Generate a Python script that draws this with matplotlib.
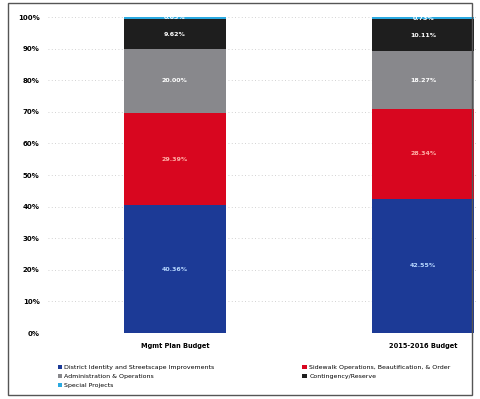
import numpy as np
import matplotlib
matplotlib.use("Agg")
import matplotlib.pyplot as plt
from matplotlib.patches import Rectangle

# -----------------------------
# Data
# -----------------------------
budgets = ["Mgmt Plan Budget", "2015-2016 Budget"]
series = ["District Identity and Streetscape Improvements",
          "Sidewalk Operations, Beautification, & Order",
          "Administration & Operations",
          "Contingency/Reserve",
          "Special Projects"]
district = [40.36, 42.55]
sidewalk = [29.39, 28.34]
admin = [20.00, 18.27]
contingency = [9.62, 10.11]
special = [0.63, 0.73]
colors = ["#1c3a96", "#d8061f", "#88888c", "#1e1e1e", "#2aa9e0"]

values = [district, sidewalk, admin, contingency, special]
label_colors = ["#b8d8ff", "#ffb0a8", "white", "white", "white"]

fig = plt.figure(figsize=(4.81, 3.99), dpi=100)
# border around the whole chart area
fig.patches.append(Rectangle((8 / 481, 4 / 399), 464 / 481, 392 / 399,
                             transform=fig.transFigure, fill=False,
                             edgecolor="#555555", linewidth=1.0))

ax = fig.add_axes([48 / 481, 66 / 399, 430 / 481, 316 / 399])

x = np.arange(len(budgets))
bottom = np.zeros(len(budgets))
for vals, col, lc, name in zip(values, colors, label_colors, series):
    vals = np.array(vals)
    ax.bar(x, vals, 0.41, bottom=bottom, color=col, label=name, zorder=3)
    for xi, v, b in zip(x, vals, bottom):
        ax.text(xi, b + v / 2, f"{v:.2f}%", ha="center", va="center",
                fontsize=4.5, color=lc, fontweight="bold", zorder=4)
    bottom += vals

ax.set_ylim(0, 100)
ax.set_xlim(-0.51, 1.22)
ax.set_yticks(np.arange(0, 101, 10))
ax.set_yticklabels([f"{t}%" for t in range(0, 101, 10)], fontsize=5,
                   fontweight="bold")
ax.set_xticks(x)
ax.set_xticklabels(budgets, fontsize=4.8, fontweight="bold")
ax.tick_params(length=0)
ax.tick_params(axis="y", pad=6)
ax.tick_params(axis="x", pad=7)
ax.yaxis.grid(True, color="#c4c4c4", linestyle=(0, (1, 3)), linewidth=0.6,
              zorder=0)
for s in ax.spines.values():
    s.set_visible(False)

# legend filled row by row like the original (2 columns)
handles, labels = ax.get_legend_handles_labels()
order = [0, 2, 4, 1, 3]
fig.legend([handles[i] for i in order], [labels[i] for i in order],
           loc="upper left", ncol=2,
           bbox_to_anchor=(52 / 481, 1 - 359 / 399), fontsize=4.5,
           frameon=False, handlelength=0.7, handleheight=0.7,
           columnspacing=14, labelspacing=0.6, handletextpad=0.4)

fig.savefig("out.png", dpi=100)
